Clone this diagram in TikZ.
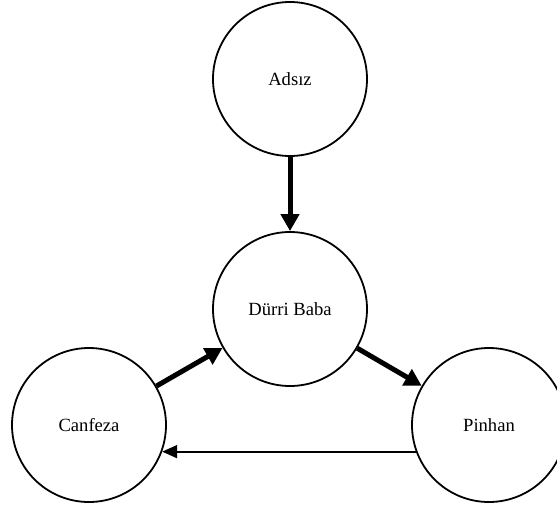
\documentclass[tikz,border=0pt]{standalone}
\usepackage{fontspec}
\setmainfont{Liberation Serif}
\usetikzlibrary{arrows.meta}
\tikzset{
  ent/.style      = {circle, draw=black, line width=1.8pt, minimum size=154pt, inner sep=0pt, align=center, font=\fontsize{18.6}{22}\selectfont},
  flowbold/.style = {-{Triangle[length=17pt, width=18pt]}, line width=5pt, black},
  flowthin/.style = {-{Triangle[length=15pt, width=13pt]}, line width=1.8pt, black},
}

\begin{document}
\begin{tikzpicture}[x=1pt, y=-1pt]
  \useasboundingbox (0,0) rectangle (557,509);

  \node[ent] (adsiz)   at (290,79)  {Adsız};
  \node[ent] (durri)   at (290,309) {Dürri Baba};
  \node[ent] (canfeza) at (89,425)  {Canfeza};
  \node[ent] (pinhan)  at (489,425) {Pinhan};

  \draw[flowbold] (adsiz) -- (durri);
  \draw[flowbold] (canfeza) -- (durri);
  \draw[flowbold] (durri) -- (pinhan);
  \draw[flowthin] (pinhan.200) -- (canfeza.340);
\end{tikzpicture}
\end{document}
